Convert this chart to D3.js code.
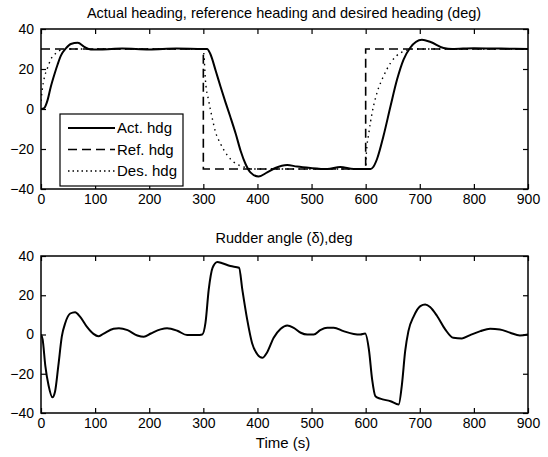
<!DOCTYPE html>
<html>
<head>
<meta charset="utf-8">
<script src="https://cdn.jsdelivr.net/npm/d3@7"></script>
<style>
  body { margin: 0; background: #fff; }
  svg { display: block; font-family: "Liberation Sans", Arial, sans-serif; }
  .tick text { font-size: 14px; fill: #000; }
</style>
</head>
<body>
<svg id="chart" width="548" height="457"></svg>
<script>
// heading plot (deg)
var actT = [0,6,12,18,25,31,37,46,55,68,80,92,110,150,200,250,300,307,313,323,332,341,350,360,369,378,387,402,418,433,455,473,498,529,553,578,600,609,614,621,633,646,658,670,682,704,720,744,760,800,850,900];
var actV = [0,0.5,4.3,11,17.5,22.5,26.8,30.3,32.5,33.1,31.1,29.8,29.8,30.2,29.8,30.2,30,30,27.5,19,11,3.3,-4,-12.5,-21,-27.5,-31.7,-33.8,-31.7,-29.5,-28,-28.8,-29.5,-30,-29,-30,-30,-30,-29,-25,-13.4,1.5,14.7,24.7,30.5,34.6,33.5,30.5,30,30.4,30.2,30];

var refT = [0,300,300,600,600,900];
var refV = [30,30,-30,-30,30,30];

var desT = [0,2,6,12,18,28,40,55,300,301,304,310,316,322,332,344,357,375,395,600,601,606,612,621,633,646,664,690,900];
var desV = [4,9,15.5,20.5,24.7,28,29.7,30,30,27.5,14,4,-4,-11,-17.5,-23,-26.7,-29,-30,-30,-23.4,-11.8,-1.8,8.1,16.4,23,28,30,30];

// rudder angle (deg)
var rudT = [0,3,8,14,21,26,32,38.5,45,54,63,72.5,85,97,106,115,134,144,160,178,190,203,221,233,252,270,289,298,304,310,317,326,335,350,366,372,381,390,400,409,418,430,443,455,467,480,492,504,516,529,541,559,578,590,599,606,612,618,627,646,661,667,673,679,689,701,710,719,732,747,762,778,793,812,830,848,867,885,900];
var rudV = [0,-2.5,-16,-26,-32,-29,-16,-1,6,10.7,11.4,9,3.9,0.3,-0.9,0.3,2.9,3.2,2.2,-0.5,-1.2,0.5,2.6,3.2,1.9,-0.3,-0.3,0,6,23,34,37,36.3,34.9,34,23,7.7,-4.3,-10.2,-11.9,-9,-1.7,2.9,4.6,3.4,0.9,0,0,2.2,3.4,3.4,1.7,0.3,0,0.5,-7.7,-23,-31.5,-32.7,-34,-35.7,-25.5,-8.5,1.7,9.4,14.5,15.3,14,9.4,2.6,-1.7,-2,-0.3,1.7,2.9,2.6,0.9,-0.5,0];

var xTicks = [0,100,200,300,400,500,600,700,800,900];
var yTicks = [-40,-20,0,20,40];

var titles = ["Actual heading, reference heading and desired heading (deg)", "Rudder angle (\u03b4),deg"];
var legendNames = ["Act. hdg", "Ref. hdg", "Des. hdg"];

var svg = d3.select("#chart");
var left = 41, right = 528;

var x = d3.scaleLinear().domain([0, 900]).range([left, right]);

function zip(t, v) { return t.map(function(d, i){ return [d, v[i]]; }); }

function panel(top, bottom, id) {
	var y = d3.scaleLinear().domain([-40, 40]).range([bottom, top]);
	var g = svg.append("g");

	g.append("clipPath").attr("id", id)
		.append("rect").attr("x", left).attr("y", top)
		.attr("width", right - left).attr("height", bottom - top);

	g.append("g").attr("transform", "translate(0," + bottom + ")")
		.call(d3.axisBottom(x).tickValues(xTicks).tickSize(-5).tickPadding(5))
		.call(function(a){ a.select(".domain").remove(); });
	g.append("g").attr("transform", "translate(0," + top + ")")
		.call(d3.axisTop(x).tickValues(xTicks).tickSize(-5).tickFormat(""))
		.call(function(a){ a.select(".domain").remove(); });
	g.append("g").attr("transform", "translate(" + left + ",0)")
		.call(d3.axisLeft(y).tickValues(yTicks).tickSize(-5).tickPadding(7))
		.call(function(a){ a.select(".domain").remove(); });
	g.append("g").attr("transform", "translate(" + right + ",0)")
		.call(d3.axisRight(y).tickValues(yTicks).tickSize(-5).tickFormat(""))
		.call(function(a){ a.select(".domain").remove(); });

	g.selectAll(".tick line").attr("stroke", "#000").attr("stroke-width", 1.2);

	g.append("rect").attr("x", left).attr("y", top)
		.attr("width", right - left).attr("height", bottom - top)
		.attr("fill", "none").attr("stroke", "#000").attr("stroke-width", 1.5);

	return { g: g, y: y };
}

var p1 = panel(29, 189, "clip1");
var p2 = panel(256, 413, "clip2");

var smooth1 = d3.line().x(function(d){ return x(d[0]); }).y(function(d){ return p1.y(d[1]); }).curve(d3.curveMonotoneX);
var step1 = d3.line().x(function(d){ return x(d[0]); }).y(function(d){ return p1.y(d[1]); });
var smooth2 = d3.line().x(function(d){ return x(d[0]); }).y(function(d){ return p2.y(d[1]); }).curve(d3.curveMonotoneX);

var lines1 = p1.g.append("g").attr("clip-path", "url(#clip1)");
lines1.append("path").datum(zip(refT, refV)).attr("d", step1)
	.attr("fill", "none").attr("stroke", "#000").attr("stroke-width", 1.6).attr("stroke-dasharray", "9,5");
lines1.append("path").datum(zip(desT, desV)).attr("d", smooth1)
	.attr("fill", "none").attr("stroke", "#000").attr("stroke-width", 1.4).attr("stroke-dasharray", "1.5,4");
lines1.append("path").datum(zip(actT, actV)).attr("d", smooth1)
	.attr("fill", "none").attr("stroke", "#000").attr("stroke-width", 2);

p2.g.append("g").attr("clip-path", "url(#clip2)")
	.append("path").datum(zip(rudT, rudV)).attr("d", smooth2)
	.attr("fill", "none").attr("stroke", "#000").attr("stroke-width", 2);

// titles
svg.append("text").attr("x", 284).attr("y", 18).attr("text-anchor", "middle")
	.attr("font-size", 14.5).text(titles[0]);
svg.append("text").attr("x", 284).attr("y", 243).attr("text-anchor", "middle")
	.attr("font-size", 14.5).text(titles[1]);
svg.append("text").attr("x", 283).attr("y", 448).attr("text-anchor", "middle")
	.attr("font-size", 15).text("Time (s)");

// legend
var leg = svg.append("g");
leg.append("rect").attr("x", 60).attr("y", 114).attr("width", 123).attr("height", 72)
	.attr("fill", "#fff").attr("stroke", "#000").attr("stroke-width", 1.2);
var dashes = [null, "9,5", "1.5,3"];
var widths = [2, 1.6, 1.4];
legendNames.forEach(function(name, i){
	var yy = 128 + i * 21.5;
	leg.append("line").attr("x1", 68).attr("x2", 115).attr("y1", yy).attr("y2", yy)
		.attr("stroke", "#000").attr("stroke-width", widths[i])
		.attr("stroke-dasharray", dashes[i]);
	leg.append("text").attr("x", 117).attr("y", yy + 5).attr("font-size", 15).text(name);
});
</script>
</body>
</html>
